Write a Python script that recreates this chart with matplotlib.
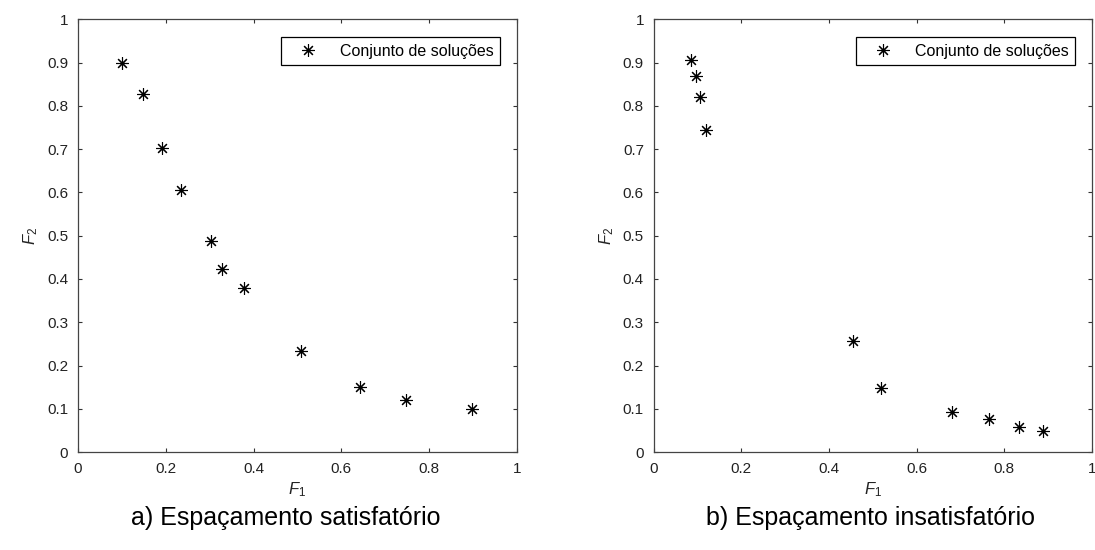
import matplotlib
matplotlib.use('Agg')
import matplotlib.pyplot as plt

plt.rcParams['font.family'] = ['Liberation Sans', 'DejaVu Sans']
plt.rcParams['mathtext.fontset'] = 'custom'
plt.rcParams['mathtext.rm'] = 'Liberation Sans'
plt.rcParams['mathtext.it'] = 'Liberation Sans:italic'

# solucoes - caso a) espacamento satisfatorio
f1_a = [0.10, 0.147, 0.191, 0.235, 0.303, 0.328, 0.378, 0.508, 0.642, 0.747, 0.897]
f2_a = [0.900, 0.827, 0.702, 0.605, 0.487, 0.423, 0.379, 0.234, 0.150, 0.120, 0.099]

# solucoes - caso b) espacamento insatisfatorio
f1_b = [0.084, 0.097, 0.106, 0.119, 0.454, 0.520, 0.681, 0.766, 0.834, 0.888]
f2_b = [0.905, 0.868, 0.820, 0.744, 0.256, 0.149, 0.092, 0.076, 0.058, 0.048]

titulos = ['a) Espaçamento satisfatório', 'b) Espaçamento insatisfatório']
ticks = [0, 0.2, 0.4, 0.6, 0.8, 1]
yticks = [0, 0.1, 0.2, 0.3, 0.4, 0.5, 0.6, 0.7, 0.8, 0.9, 1]


def fmt(v):
    return '0' if v == 0 else ('1' if v == 1 else ('%g' % v))


fig = plt.figure(figsize=(10.95, 5.5), dpi=100)
ax1 = fig.add_axes([0.0712, 0.178, 0.401, 0.787])
ax2 = fig.add_axes([0.597, 0.178, 0.400, 0.787])

# posicao horizontal (fracao da figura) de cada legenda inferior
tit_x = [0.261, 0.795]

for ax, x, y, tit, tx in [(ax1, f1_a, f2_a, titulos[0], tit_x[0]),
                          (ax2, f1_b, f2_b, titulos[1], tit_x[1])]:
    ax.plot(x, y, linestyle='none', marker=(8, 2, 0), markersize=9,
            markeredgewidth=0.8, color='black', label='Conjunto de soluções')
    ax.set_xlim(0, 1)
    ax.set_ylim(0, 1)
    ax.set_xticks(ticks)
    ax.set_xticklabels([fmt(t) for t in ticks])
    ax.set_yticks(yticks)
    ax.set_yticklabels([fmt(t) for t in yticks])
    ax.tick_params(direction='in', length=3, width=0.8, top=True, right=True,
                   labelsize=11, colors='#333333', labelcolor='#222222', pad=7)
    for s in ax.spines.values():
        s.set_color('#444444')
        s.set_linewidth(0.9)
    ax.set_xlabel(r'$\mathit{F_1}$', fontsize=12, color='#222222', labelpad=3)
    ax.set_ylabel(r'$\mathit{F_2}$', fontsize=12, color='#222222', labelpad=5)
    leg = ax.legend(loc='upper right', fontsize=11.5, fancybox=False, framealpha=1,
                    edgecolor='black', borderpad=0.4, handletextpad=0.7,
                    handlelength=2.6, borderaxespad=0,
                    bbox_to_anchor=(0.962, 0.958))
    leg.get_frame().set_linewidth(0.9)
    fig.text(tx, 0.058, tit, ha='center', va='center', fontsize=18, color='black')

fig.savefig('out.png', dpi=100)
